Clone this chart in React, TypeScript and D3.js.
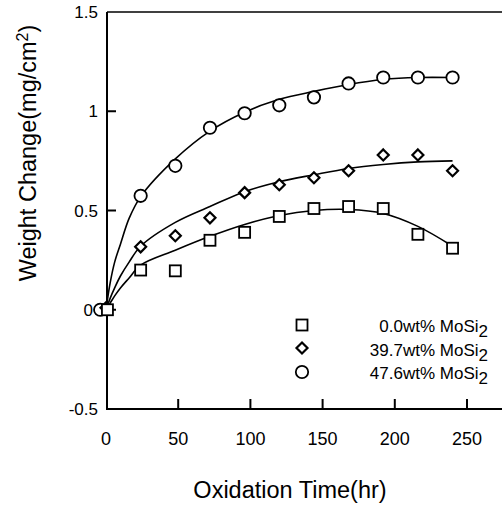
import React from 'react';
import * as d3 from 'd3';

// measured points (time in hr, weight change in mg/cm2)
const hours = [24, 48, 72, 96, 120, 144, 168, 192, 216, 240];
const sq0 = [0.2, 0.196, 0.35, 0.39, 0.47, 0.51, 0.52, 0.51, 0.38, 0.31];
const dia397 = [0.317, 0.373, 0.463, 0.59, 0.63, 0.665, 0.7, 0.78, 0.78, 0.7];
const cir476 = [0.574, 0.725, 0.917, 0.99, 1.03, 1.07, 1.14, 1.17, 1.17, 1.17];

// points sitting at the origin (slightly offset in the original figure)
const originSq = { t: 1, v: 0 };
const originDia = { t: 0, v: 0.01 };
const originCir = { t: -4, v: 0 };

// fitted curves
const fitT = [0, 3, 6, 10, 16, 24, 48, 72, 96, 120, 144, 168, 192, 216, 240];
const fitSq = [0, 0.035, 0.07, 0.11, 0.16, 0.225, 0.3, 0.37, 0.43, 0.475, 0.5, 0.505, 0.485, 0.42, 0.32];
const fitDia = [0, 0.06, 0.11, 0.17, 0.24, 0.32, 0.44, 0.52, 0.595, 0.645, 0.68, 0.712, 0.732, 0.745, 0.75];
const fitCir = [0, 0.14, 0.24, 0.33, 0.46, 0.57, 0.76, 0.9, 0.995, 1.06, 1.1, 1.135, 1.16, 1.17, 1.17];

const xTicks = [0, 50, 100, 150, 200, 250];
const yTicks = [-0.5, 0, 0.5, 1, 1.5];
const yTickLabels = ['-0.5', '0', '0.5', '1', '1.5'];
const legendLabels = ['0.0wt% MoSi', '39.7wt% MoSi', '47.6wt% MoSi'];

const FONT = 'Liberation Sans, Arial, Helvetica, sans-serif';

export default function App() {
  const W = 502;
  const H = 506;
  const x = d3.scaleLinear().domain([0, 250]).range([106, 467]);
  const y = d3.scaleLinear().domain([-0.5, 1.5]).range([409, 12]);
  const left = 107;
  const right = 502;
  const top = y(1.5);
  const bottom = y(-0.5);

  const line = d3
    .line<number>()
    .x((_, i) => x(fitT[i]))
    .y((d) => y(d))
    .curve(d3.curveCatmullRom.alpha(0.5));

  const square = (cx: number, cy: number, key: string) => (
    <rect key={key} x={cx - 5.5} y={cy - 5.5} width={11} height={11} fill="#fff" stroke="#000" strokeWidth={1.8} />
  );
  const diamond = (cx: number, cy: number, key: string) => (
    <path
      key={key}
      d={`M${cx},${cy - 5.5}L${cx + 5.5},${cy}L${cx},${cy + 5.5}L${cx - 5.5},${cy}Z`}
      fill="#fff"
      stroke="#000"
      strokeWidth={2.2}
    />
  );
  const circle = (cx: number, cy: number, key: string) => (
    <circle key={key} cx={cx} cy={cy} r={6.2} fill="#fff" stroke="#000" strokeWidth={1.8} />
  );

  return (
    <svg width={W} height={H} style={{ position: 'absolute', left: 0, top: 0, background: '#fff' }} fontFamily={FONT}>
      <rect width={W} height={H} fill="#fff" />

      {/* frame */}
      <line x1={left} x2={right} y1={top} y2={top} stroke="#000" strokeWidth={1.5} />
      <line x1={left} x2={left} y1={top} y2={bottom + 1} stroke="#000" strokeWidth={2} />
      <line x1={left} x2={right} y1={bottom} y2={bottom} stroke="#000" strokeWidth={2} />

      {/* x ticks */}
      {xTicks.map((t) => (
        <g key={'xt' + t}>
          {t > 0 && <line x1={x(t)} x2={x(t)} y1={bottom} y2={bottom - 10} stroke="#000" strokeWidth={2} />}
          <text x={x(t)} y={445} textAnchor="middle" fontSize={18}>
            {t}
          </text>
        </g>
      ))}

      {/* y ticks */}
      {yTicks.map((v, i) => (
        <g key={'yt' + v}>
          {v > -0.5 && v < 1.5 && <line x1={left} x2={left + 9} y1={y(v)} y2={y(v)} stroke="#000" strokeWidth={2} />}
          <text x={v === 0 ? 93 : 98} y={y(v) + 6} textAnchor="end" fontSize={17}>
            {yTickLabels[i]}
          </text>
        </g>
      ))}

      {/* fitted curves */}
      {[fitSq, fitDia, fitCir].map((f, i) => (
        <path key={'fit' + i} d={line(f) || ''} fill="none" stroke="#000" strokeWidth={1.6} />
      ))}

      {/* markers */}
      {circle(x(originCir.t), y(originCir.v), 'c0')}
      {diamond(x(originDia.t), y(originDia.v), 'd0')}
      {square(x(originSq.t), y(originSq.v), 's0')}
      {hours.map((t, i) => square(x(t), y(sq0[i]), 's' + i))}
      {hours.map((t, i) => diamond(x(t), y(dia397[i]), 'd' + i))}
      {hours.map((t, i) => circle(x(t), y(cir476[i]), 'c' + i))}

      {/* legend */}
      {square(302, 325, 'ls')}
      {diamond(302, 348, 'ld')}
      {circle(302, 372, 'lc')}
      {legendLabels.map((l, i) => (
        <text key={'lg' + i} x={488} y={332 + i * 23.5} textAnchor="end" fontSize={17}>
          {l}
          <tspan dy={5} fontSize={17}>
            2
          </tspan>
        </text>
      ))}

      {/* axis titles */}
      <text x={290} y={498} textAnchor="middle" fontSize={23.5}>
        Oxidation Time(hr)
      </text>
      <text transform="translate(36,153) rotate(-90)" textAnchor="middle" fontSize={23.5}>
        Weight Change(mg/cm
        <tspan dy={-8} fontSize={16}>
          2
        </tspan>
        <tspan dy={8}>)</tspan>
      </text>
    </svg>
  );
}
